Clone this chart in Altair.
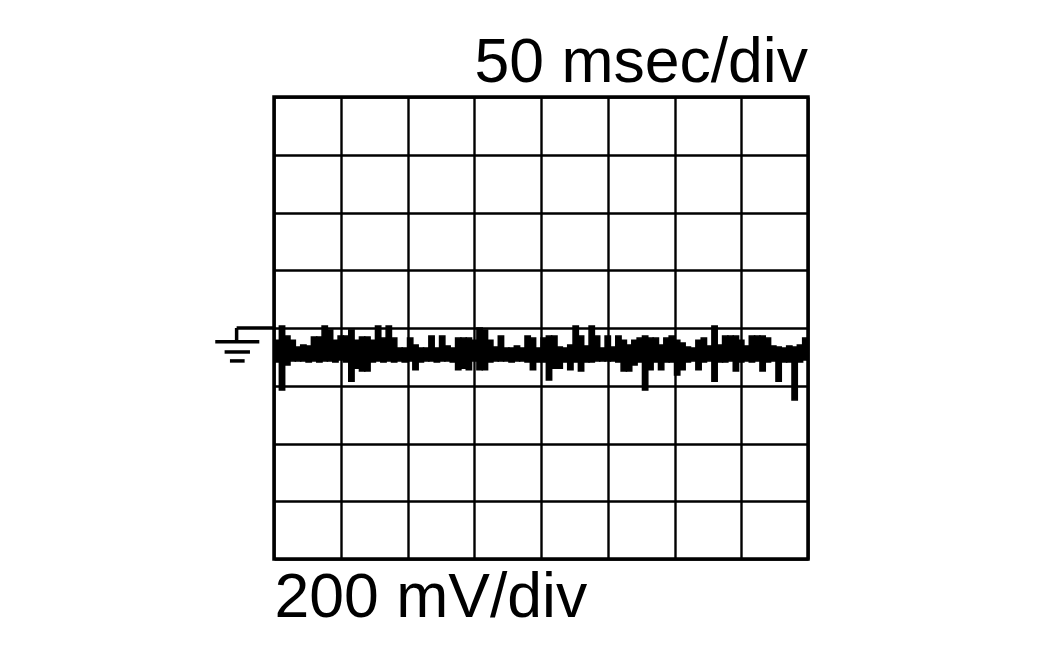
import altair as alt
import pandas as pd

# Oscilloscope settings
time_per_div_ms = 50
volt_per_div_mv = 200
n_div = 8
t_max = time_per_div_ms * n_div          # 400 ms
v_half = volt_per_div_mv * n_div / 2     # 800 mV

bin_ms = 4
trace_hi = [
    -42, 7, -28, -42, -66, -59, -62, -31, -31, 7,
    -7, -42, -28, -28, -7, -42, -31, -31, -42, 7,
    -35, 7, -35, -69, -69, -35, -59, -69, -69, -28,
    -69, -28, -62, -69, -35, -35, -35, -42, 0, -7,
    -42, -66, -28, -69, -69, -62, -69, -28, -35, -69,
    -35, -28, -28, -66, -69, -59, 7, -28, -62, 7,
    -28, -69, -28, -66, -28, -42, -59, -42, -35, -28,
    -35, -35, -59, -35, -28, -42, -52, -66, -69, -42,
    -35, -62, 7, -59, -28, -28, -28, -42, -62, -28,
    -28, -28, -35, -62, -66, -69, -62, -66, -59, -35,
]
trace_lo = [
    -118, -215, -128, -114, -114, -114, -118, -114, -118, -114,
    -114, -118, -111, -118, -184, -139, -149, -149, -118, -114,
    -118, -114, -118, -114, -118, -114, -145, -118, -114, -114,
    -118, -114, -114, -118, -145, -139, -145, -114, -145, -145,
    -118, -114, -114, -114, -118, -114, -114, -118, -145, -118,
    -118, -180, -139, -139, -118, -145, -118, -149, -118, -118,
    -114, -114, -114, -114, -118, -149, -149, -128, -118, -215,
    -145, -118, -145, -118, -118, -163, -145, -118, -114, -145,
    -118, -114, -184, -118, -118, -114, -149, -118, -114, -118,
    -114, -149, -118, -114, -184, -118, -118, -249, -118, -111,
]
trace_t = [i * bin_ms for i in range(len(trace_hi))]

# Ground reference marker (0 mV), left of the screen, in ms / mV
ground_x = [-28, -44, -37, -33, -28]
ground_x2 = [0, -11, -18, -22, -28]
ground_y = [0, -48, -83, -114, 0]
ground_y2 = [0, -48, -83, -114, -48]

trace = pd.DataFrame({
    "t": trace_t,
    "t2": [t + bin_ms for t in trace_t],
    "hi": trace_hi,
    "lo": trace_lo,
})
ground = pd.DataFrame({"x": ground_x, "x2": ground_x2, "y": ground_y, "y2": ground_y2})

x_ticks = [i * time_per_div_ms for i in range(n_div + 1)]
y_ticks = [-v_half + i * volt_per_div_mv for i in range(n_div + 1)]

FONT = "Liberation Sans"
FS = 62.5

x_scale = alt.Scale(domain=[0, t_max], nice=False, zero=False)
y_scale = alt.Scale(domain=[-v_half, v_half], nice=False, zero=False)

x_axis = alt.Axis(
    values=x_ticks, grid=True, gridColor="black", gridWidth=2.4, gridOpacity=1,
    labels=False, ticks=False, domain=False,
    title="200 mV/div", titleFont=FONT, titleFontSize=FS, titleFontWeight="normal",
    titleColor="black", titleAnchor="start", titleAlign="left", titlePadding=8,
)
y_axis = alt.Axis(
    values=y_ticks, grid=True, gridColor="black", gridWidth=2.4, gridOpacity=1,
    labels=False, ticks=False, domain=False, title=None,
)

trace_layer = alt.Chart(trace).mark_rect(
    color="black", stroke="black", strokeWidth=1.5
).encode(
    x=alt.X("t:Q", scale=x_scale, axis=x_axis),
    x2="t2:Q",
    y=alt.Y("lo:Q", scale=y_scale, axis=y_axis),
    y2="hi:Q",
)

ground_layer = alt.Chart(ground).mark_rule(color="black", strokeWidth=3.5, clip=False).encode(
    x=alt.X("x:Q", scale=x_scale),
    x2="x2:Q",
    y=alt.Y("y:Q", scale=y_scale),
    y2="y2:Q",
)

chart = alt.layer(trace_layer, ground_layer).properties(
    width=534,
    height=462,
    title=alt.TitleParams(
        "50 msec/div", anchor="end", frame="group", fontSize=FS, font=FONT,
        fontWeight="normal", color="black", offset=2,
    ),
    padding={"left": 266, "top": 89, "right": 200, "bottom": 90},
    autosize="none",
).configure_view(stroke="black", strokeWidth=3.5)

chart.save("out.html", embed_options={"renderer": "svg", "actions": False})
